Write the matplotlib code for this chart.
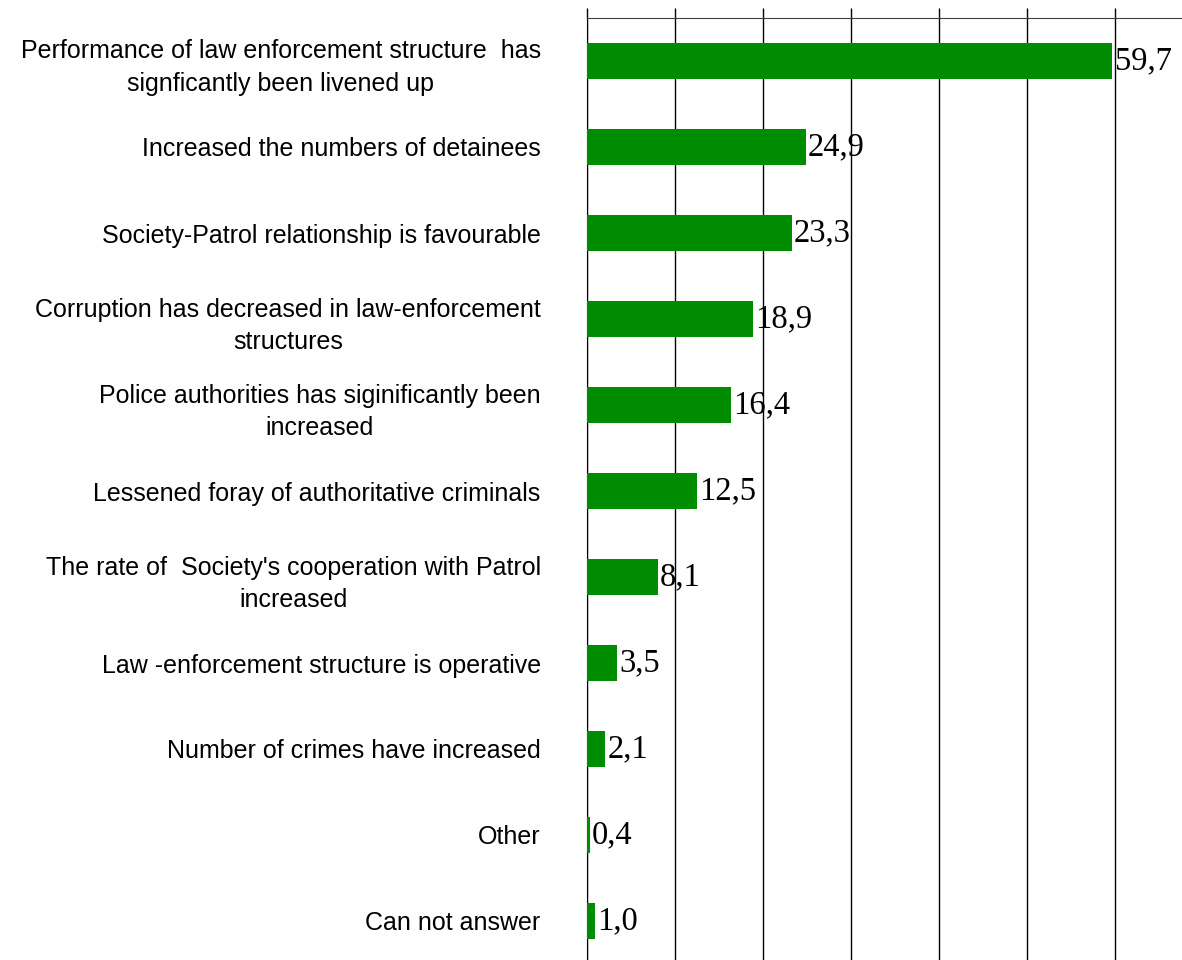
import matplotlib.pyplot as plt

categories = [
    "Performance of law enforcement structure  has\nsignficantly been livened up",
    "Increased the numbers of detainees",
    "Society-Patrol relationship is favourable",
    "Corruption has decreased in law-enforcement\nstructures",
    "Police authorities has siginificantly been\nincreased",
    "Lessened foray of authoritative criminals",
    "The rate of  Society's cooperation with Patrol\nincreased",
    "Law -enforcement structure is operative",
    "Number of crimes have increased",
    "Other",
    "Can not answer",
]
values = [59.7, 24.9, 23.3, 18.9, 16.4, 12.5, 8.1, 3.5, 2.1, 0.4, 1.0]
x_ticks = [0, 10, 20, 30, 40, 50, 60]

fig = plt.figure(figsize=(11.82, 9.6), dpi=100)
ax = fig.add_axes([586.5 / 1182, -4 / 960, 1 - 586.5 / 1182, 1 - 18 / 960 + 4 / 960])

pos = list(range(len(categories)))
ax.barh(pos, values, height=0.42, color='#008c00', zorder=3)

for i, v in enumerate(values):
    ax.text(v + 0.25, i, f"{v:.1f}".replace('.', ','), va='center', ha='left',
            fontsize=23.5, family='Liberation Serif', color='black', zorder=4)

ax.set_ylim(len(categories) - 0.5, -0.5)
ax.set_xlim(0, (1182 - 586.5) / 8.81)
ax.set_yticks(pos)
ax.set_yticklabels(categories, fontsize=18, family='Liberation Sans',
                   multialignment='center', linespacing=1.45)
ax.tick_params(axis='y', length=0, pad=33)

ax.set_xticks(x_ticks)
ax.set_xticklabels([])
ax.xaxis.tick_top()
ax.tick_params(axis='x', direction='out', length=7, width=1, color='black')
ax.grid(axis='x', color='black', lw=1, zorder=1)

ax.spines['top'].set_color('#404040')
ax.spines['left'].set_color('black')
ax.spines['right'].set_visible(False)
ax.spines['bottom'].set_visible(False)

fig.savefig('out.png', dpi=100)
